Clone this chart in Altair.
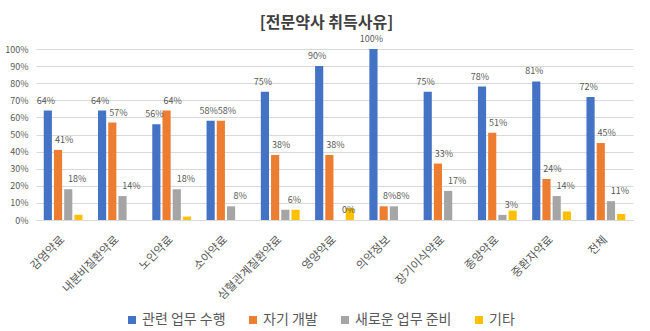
import altair as alt
import pandas as pd

categories = ["감염약료", "내분비질환약료", "노인약료", "소아약료", "심혈관계질환약료",
              "영양약료", "의약정보", "장기이식약료", "종양약료", "중환자약료", "전체"]
series = ["관련 업무 수행", "자기 개발", "새로운 업무 준비", "기타"]
colors = ["#4472C4", "#ED7D31", "#A5A5A5", "#FFC000"]

related = [64, 64, 56, 58, 75, 90, 100, 75, 78, 81, 72]
selfdev = [41, 57, 64, 58, 38, 38, 8, 33, 51, 24, 45]
newjob = [18, 14, 18, 8, 6, 0, 8, 17, 3, 14, 11]
other = [3, 0, 2, 0, 6, 7, 0, 0, 5.5, 5, 3.5]

rows = []
for s, vals in zip(series, [related, selfdev, newjob, other]):
    for c, v in zip(categories, vals):
        rows.append({"category": c, "series": s, "value": v, "label": f"{v:g}%"})
df = pd.DataFrame(rows)

FONT = "Noto Sans CJK KR"

base = alt.Chart(df).encode(
    x=alt.X("category:N", sort=categories, title=None,
            scale=alt.Scale(domain=categories, paddingInner=0.285, paddingOuter=0.1425),
            axis=alt.Axis(labelAngle=-45, labelAlign="right", labelBaseline="middle",
                          labelFontSize=11.5, labelColor="#595959", labelFont=FONT,
                          ticks=False, domain=True, domainColor="#D9D9D9",
                          labelPadding=18, grid=False)),
    xOffset=alt.XOffset("series:N", sort=series,
                        scale=alt.Scale(domain=series, paddingInner=0.2, paddingOuter=0)),
    y=alt.Y("value:Q", title=None, scale=alt.Scale(domain=[0, 100], nice=False),
            axis=alt.Axis(values=list(range(0, 101, 10)), labelExpr="datum.value + '%'",
                          labelFontSize=9, labelColor="#595959", labelFont=FONT,
                          ticks=False, domain=False, gridColor="#D9D9D9",
                          labelPadding=8)),
)

bars = base.mark_bar().encode(
    color=alt.Color("series:N", sort=series,
                    scale=alt.Scale(domain=series, range=colors),
                    legend=alt.Legend(title=None, orient="none", legendX=89, legendY=264,
                                      direction="horizontal", columns=4,
                                      symbolType="square", symbolSize=64,
                                      symbolStrokeWidth=0, labelFontSize=14,
                                      labelFont=FONT, labelColor="#595959",
                                      labelOffset=3, columnPadding=20))
)

label_shift = [-2, 6, 9]
texts = [
    base.transform_filter(alt.datum.series == s)
        .mark_text(baseline="bottom", dy=-5, dx=d, fontSize=9, color="#595959", font=FONT)
        .encode(text="label:N")
    for s, d in zip(series[:3], label_shift)
]

chart = alt.layer(bars, *texts).properties(
    width=597, height=171,
    autosize=alt.AutoSizeParams(type="none"),
    padding={"left": 36, "top": 49, "right": 17, "bottom": 111},
    title=alt.TitleParams("[전문약사 취득사유]", fontSize=16, fontWeight="bold",
                          color="#404040", font=FONT, anchor="middle", frame="group",
                          offset=4, dx=-8),
).configure_view(stroke=None)

chart.save("out.html", embed_options={"renderer": "svg", "actions": False})
